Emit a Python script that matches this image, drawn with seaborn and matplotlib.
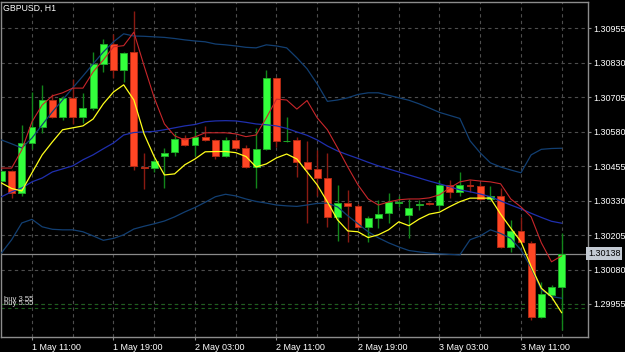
import numpy as np
import pandas as pd
import matplotlib
matplotlib.use("Agg")
import matplotlib.pyplot as plt
import seaborn as sns
from matplotlib.transforms import blended_transform_factory

# ---------------- data ----------------
chart_title = "GBPUSD, H1"

opens = [1.30401, 1.30438, 1.30359, 1.30540, 1.30597, 1.30695, 1.30635, 1.30703, 1.30635, 1.30666,
         1.30826, 1.30898, 1.30804, 1.30868, 1.30453, 1.30450, 1.30490, 1.30508, 1.30556, 1.30532,
         1.30560, 1.30550, 1.30493, 1.30550, 1.30520, 1.30453, 1.30518, 1.30774, 1.30547, 1.30550,
         1.30469, 1.30444, 1.30411, 1.30272, 1.30321, 1.30311, 1.30236, 1.30268, 1.30284, 1.30323,
         1.30278, 1.30313, 1.30323, 1.30314, 1.30387, 1.30363, 1.30387, 1.30383, 1.30335, 1.30347,
         1.30161, 1.30221, 1.30178, 1.29909, 1.29988, 1.30018]
highs = [1.30445, 1.30441, 1.30605, 1.30724, 1.30750, 1.30717, 1.30710, 1.30770, 1.30721, 1.30868,
         1.30917, 1.30935, 1.30869, 1.31019, 1.30502, 1.30485, 1.30520, 1.30575, 1.30568, 1.30587,
         1.30599, 1.30554, 1.30561, 1.30562, 1.30532, 1.30593, 1.30802, 1.30779, 1.30633, 1.30560,
         1.30547, 1.30514, 1.30502, 1.30387, 1.30369, 1.30318, 1.30275, 1.30333, 1.30359, 1.30345,
         1.30335, 1.30333, 1.30325, 1.30405, 1.30405, 1.30433, 1.30405, 1.30393, 1.30383, 1.30375,
         1.30260, 1.30272, 1.30182, 1.30036, 1.30024, 1.30212]
lows = [1.30394, 1.30340, 1.30345, 1.30518, 1.30576, 1.30630, 1.30623, 1.30608, 1.30612, 1.30659,
        1.30798, 1.30775, 1.30761, 1.30441, 1.30371, 1.30434, 1.30377, 1.30490, 1.30528, 1.30490,
        1.30547, 1.30480, 1.30489, 1.30514, 1.30449, 1.30377, 1.30514, 1.30526, 1.30544, 1.30417,
        1.30249, 1.30345, 1.30236, 1.30184, 1.30181, 1.30231, 1.30181, 1.30230, 1.30248, 1.30308,
        1.30194, 1.30296, 1.30314, 1.30296, 1.30339, 1.30348, 1.30363, 1.30333, 1.30333, 1.30159,
        1.30145, 1.30176, 1.29897, 1.29904, 1.29970, 1.29861]
closes = [1.30438, 1.30358, 1.30538, 1.30597, 1.30695, 1.30635, 1.30703, 1.30635, 1.30666, 1.30826,
          1.30898, 1.30802, 1.30867, 1.30456, 1.30447, 1.30474, 1.30502, 1.30554, 1.30532, 1.30560,
          1.30550, 1.30493, 1.30550, 1.30521, 1.30453, 1.30518, 1.30774, 1.30548, 1.30548, 1.30471,
          1.30445, 1.30411, 1.30272, 1.30321, 1.30312, 1.30236, 1.30268, 1.30282, 1.30326, 1.30326,
          1.30305, 1.30318, 1.30317, 1.30387, 1.30363, 1.30387, 1.30384, 1.30335, 1.30347, 1.30161,
          1.30221, 1.30179, 1.29909, 1.29991, 1.30018, 1.30138]

ma_red = [1.30448, 1.30448, 1.30514, 1.30616, 1.30677, 1.30710, 1.30721, 1.30738, 1.30738, 1.30797,
          1.30840, 1.30888, 1.30892, 1.30941, 1.30819, 1.30703, 1.30608, 1.30565, 1.30550, 1.30561,
          1.30576, 1.30576, 1.30576, 1.30572, 1.30562, 1.30568, 1.30630, 1.30698, 1.30695, 1.30662,
          1.30693, 1.30630, 1.30587, 1.30521, 1.30452, 1.30387, 1.30336, 1.30314, 1.30325, 1.30333,
          1.30336, 1.30336, 1.30340, 1.30351, 1.30376, 1.30398, 1.30405, 1.30401, 1.30398, 1.30391,
          1.30336, 1.30307, 1.30271, 1.30177, 1.30108, 1.30130]
ma_yellow = [1.30394, 1.30374, 1.30365, 1.30431, 1.30496, 1.30543, 1.30587, 1.30594, 1.30601, 1.30626,
             1.30681, 1.30724, 1.30750, 1.30695, 1.30572, 1.30489, 1.30423, 1.30427, 1.30460, 1.30481,
             1.30507, 1.30508, 1.30508, 1.30504, 1.30490, 1.30452, 1.30463, 1.30485, 1.30499, 1.30481,
             1.30434, 1.30387, 1.30325, 1.30260, 1.30220, 1.30217, 1.30196, 1.30206, 1.30224, 1.30253,
             1.30239, 1.30263, 1.30281, 1.30288, 1.30308, 1.30326, 1.30339, 1.30339, 1.30339, 1.30281,
             1.30230, 1.30181, 1.30091, 1.30012, 1.29981, 1.29923]
bb_upper = [1.30550, 1.30536, 1.30521, 1.30557, 1.30605, 1.30652, 1.30695, 1.30739, 1.30782, 1.30826,
            1.30869, 1.30906, 1.30935, 1.30927, 1.30926, 1.30924, 1.30922, 1.30918, 1.30913, 1.30909,
            1.30906, 1.30898, 1.30895, 1.30891, 1.30886, 1.30884, 1.30895, 1.30891, 1.30884, 1.30848,
            1.30808, 1.30753, 1.30690, 1.30695, 1.30703, 1.30715, 1.30721, 1.30721, 1.30712, 1.30703,
            1.30694, 1.30681, 1.30666, 1.30650, 1.30639, 1.30628, 1.30547, 1.30503, 1.30467, 1.30452,
            1.30441, 1.30431, 1.30496, 1.30516, 1.30519, 1.30520]
bb_middle = [1.30344, 1.30362, 1.30376, 1.30398, 1.30412, 1.30434, 1.30445, 1.30456, 1.30478, 1.30496,
             1.30518, 1.30539, 1.30568, 1.30577, 1.30579, 1.30581, 1.30587, 1.30594, 1.30601, 1.30606,
             1.30616, 1.30619, 1.30620, 1.30619, 1.30614, 1.30608, 1.30605, 1.30601, 1.30592, 1.30579,
             1.30567, 1.30550, 1.30528, 1.30510, 1.30496, 1.30483, 1.30469, 1.30456, 1.30445, 1.30434,
             1.30423, 1.30412, 1.30401, 1.30391, 1.30380, 1.30369, 1.30362, 1.30354, 1.30344, 1.30329,
             1.30314, 1.30300, 1.30284, 1.30269, 1.30255, 1.30248]
bb_lower = [1.30140, 1.30188, 1.30249, 1.30262, 1.30235, 1.30226, 1.30224, 1.30224, 1.30217, 1.30202,
            1.30186, 1.30193, 1.30206, 1.30227, 1.30237, 1.30246, 1.30256, 1.30271, 1.30289, 1.30305,
            1.30324, 1.30344, 1.30353, 1.30347, 1.30336, 1.30327, 1.30321, 1.30314, 1.30311, 1.30309,
            1.30314, 1.30320, 1.30321, 1.30307, 1.30275, 1.30246, 1.30217, 1.30195, 1.30177, 1.30162,
            1.30149, 1.30144, 1.30140, 1.30137, 1.30135, 1.30133, 1.30188, 1.30202, 1.30224, 1.30211,
            1.30193, 1.30151, 1.30086, 1.30006, 1.29982, 1.29976]

time_labels = ["1 May 11:00", "1 May 19:00", "2 May 03:00", "2 May 11:00",
               "2 May 19:00", "3 May 03:00", "3 May 11:00"]
time_label_bars = [3, 11, 19, 27, 35, 43, 51]
price_ticks = [1.29955, 1.30080, 1.30205, 1.30330, 1.30455, 1.30580, 1.30705, 1.30830, 1.30955]
current_price = 1.30138
order_prices = [1.29955, 1.29940]
order_labels = ["buy 3.55", "buy 5.55"]

# ---------------- styling ----------------
sns.set_theme(style="dark")
plt.rcParams["font.family"] = ["Liberation Sans", "DejaVu Sans"]

W, H = 625, 352
fig = plt.figure(figsize=(W / 100, H / 100), dpi=100, facecolor="black")
ax_left, ax_right, ax_top, ax_bottom = 1, 588, 1.5, 337.3
ax = fig.add_axes([ax_left / W, 1 - ax_bottom / H, (ax_right - ax_left) / W, (ax_bottom - ax_top) / H])
ax.set_facecolor("black")

n = len(opens)
bars = np.arange(n)
df = pd.DataFrame({"bar": bars, "open": opens, "high": highs, "low": lows, "close": closes,
                   "red": ma_red, "yellow": ma_yellow, "upper": bb_upper,
                   "middle": bb_middle, "lower": bb_lower})

ax.set_xlim(-0.043, 57.58)
ax.set_ylim(1.298342, 1.310522)

grid_col = "#4d4d4d"
dash = (0, (3, 3))
for p in price_ticks:
    ax.axhline(p, color=grid_col, lw=0.8, ls=dash, zorder=1)
for g in range(3, n, 4):
    ax.axvline(g, color=grid_col, lw=0.8, ls=dash, zorder=1)

# order lines
for p, lab in zip(order_prices, order_labels):
    ax.axhline(p, color="#1d5f1d", lw=0.8, ls=dash, zorder=1.5)
    ax.text(0.25, p + 0.00004, lab, color="#d8d8d8", fontsize=5.6, va="bottom", ha="left", zorder=5)

# current price line
ax.axhline(current_price, color="#8a8a8a", lw=0.9, zorder=1.6)

# candles
bull = df["close"] >= df["open"]
wick_cols = np.where(bull, "#12861a", "#8a1a12")
body_cols = np.where(bull, "#33ff3c", "#ff4624")
edge_cols = np.where(bull, "#1fa827", "#b02a15")
ax.vlines(df["bar"], df["low"], df["high"], colors=wick_cols, lw=1.0, zorder=2)
bottoms = np.minimum(df["open"], df["close"])
heights = np.abs(df["close"] - df["open"])
ax.bar(df["bar"], heights, bottom=bottoms, width=0.68, color=body_cols,
       edgecolor=edge_cols, linewidth=0.7, zorder=3)

# indicator lines
sns.lineplot(data=df, x="bar", y="upper", ax=ax, color="#123f72", lw=0.9, zorder=4, legend=False)
sns.lineplot(data=df, x="bar", y="lower", ax=ax, color="#123f72", lw=0.9, zorder=4, legend=False)
sns.lineplot(data=df, x="bar", y="middle", ax=ax, color="#1f2fae", lw=0.9, zorder=4, legend=False)
sns.lineplot(data=df, x="bar", y="red", ax=ax, color="#c8262a", lw=0.8, zorder=5, legend=False)
sns.lineplot(data=df, x="bar", y="yellow", ax=ax, color="#ffff1a", lw=0.9, zorder=5, legend=False)

# axes / ticks
ax.set_xlabel("")
ax.set_ylabel("")
ax.grid(False)
for s in ax.spines.values():
    s.set_color("#8c8c8c")
    s.set_linewidth(1.0)
ax.yaxis.tick_right()
ax.set_yticks(price_ticks)
ax.set_yticklabels([f"{p:.5f}" for p in price_ticks])
ax.tick_params(axis="y", right=True, left=False, length=2.5, width=0.8, color="#8c8c8c",
               labelcolor="white", labelsize=6.5, pad=1)
ax.set_xticks(time_label_bars)
ax.set_xticklabels(time_labels, ha="left")
ax.tick_params(axis="x", bottom=True, length=2.5, width=0.8, color="#8c8c8c",
               labelcolor="white", labelsize=6.5, pad=1.5)

tr = blended_transform_factory(ax.transAxes, ax.transData)
ax.text(1.0, current_price, f"{current_price:.5f}", transform=tr, ha="left", va="center",
        fontsize=6.5, color="black", zorder=10,
        bbox=dict(boxstyle="square,pad=0.2", fc="#c3cad3", ec="none"))

fig.text(3 / W, 1 - 8 / H, chart_title, color="white", fontsize=6.3, va="center", ha="left")

fig.savefig("out.png", dpi=100, facecolor="black")
